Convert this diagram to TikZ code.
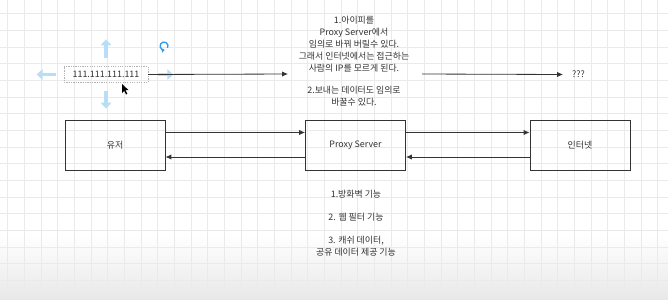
\documentclass[tikz,border=0pt]{standalone}
\usepackage{fontspec}
\setmainfont{Noto Sans CJK KR}
\usetikzlibrary{arrows.meta, calc}

\definecolor{ink}{HTML}{333333}
\definecolor{gridc}{HTML}{EAEAEA}
\definecolor{handlec}{HTML}{B8DEF7}
\definecolor{rotc}{HTML}{2E9BEA}

\begin{document}
\begin{tikzpicture}[x=0.03cm, y=-0.03cm, >={Latex[length=5pt,width=4.5pt]},
  font=\fontsize{7.6}{10.2}\selectfont, text=ink,
  block/.style={draw=ink, line width=0.8pt, minimum width=3cm, minimum height=1.5cm, inner sep=0pt},
  ipbox/.style={draw=gray!60, dashed, dash pattern=on 1pt off 1pt, minimum width=2.52cm, minimum height=0.47cm, inner sep=0pt},
  link/.style={draw=ink, line width=0.7pt, ->},
  note/.style={align=center, inner sep=0pt},
  handle/.style={draw=handlec, line width=3.2pt, -{Triangle[length=5pt,width=9pt]}}]

% ---------- canvas ----------
\useasboundingbox (0,0) rectangle (668,299);
\fill[white] (0,0) rectangle (668,299);
\shade[top color=white, bottom color=black!9] (0,235) rectangle (668,299);
\foreach \i in {0,...,39} \draw[gridc, line width=0.4pt] ({7.4+16.67*\i},0) -- ++(0,299);
\foreach \i in {0,...,17} \draw[gridc, line width=0.4pt] (0,{13.6+16.67*\i}) -- ++(668,0);

% ---------- blocks ----------
\node[block] (user)  at (115,145) {유저};
\node[block] (proxy) at (355.5,145) {Proxy Server};
\node[block] (net)   at (580,145) {인터넷};

% ---------- request / response ----------
\draw[link] ($(user.east)+(0,-12.5)$)  -- ($(proxy.west)+(0,-12.5)$);
\draw[link] ($(proxy.east)+(0,-12.5)$) -- ($(net.west)+(0,-12.5)$);
\draw[link] ($(net.west)+(0,12)$)      -- ($(proxy.east)+(0,12)$);
\draw[link] ($(proxy.west)+(0,12)$)    -- ($(user.east)+(0,12)$);

% ---------- ip address (selected) ----------
\node[ipbox] (ip) at (106,74.5) {111.111.111.111};
\draw[handle] (ip.north) ++(0,-8) -- ++(0,-19);
\draw[handle] (ip.south) ++(0,8)  -- ++(0,18);
\draw[handle] (ip.west)  ++(-8,0) -- ++(-19,0);
\draw[handle] (ip.east)  ++(10,0) -- ++(15,0);
\draw[rotc, line width=1.1pt, -{Triangle[length=2.5pt,width=3.5pt]}] (167.5,48) arc[start angle=30, end angle=-280, radius=4];
\fill[black] (122,84) -- (122,93) -- (124.2,90.8) -- (126,94.5) -- (127.3,93.8) -- (125.6,90.2) -- (128.6,90.2) -- cycle;

\coordinate (hidden) at (288,74);
\draw[link] (ip.east) -- (hidden);

% ---------- what the proxy does ----------
\node[note, anchor=north] (why) at (354,16) {1.아이피를\\Proxy Server에서\\임의로 바꿔 버릴수 있다.\\그래서 인터넷에서는 접근하는\\사람의 IP를 모르게 된다.\\[8.5pt]2.보내는 데이터도 임의로\\바꿀수 있다.};

\node[anchor=west, inner sep=0pt] (unknown) at (572,74.5) {???};
\coordinate (out) at (422,74);
\draw[link] (out) -- ($(unknown.west)+(-9,0)$);

\node[note, anchor=north] (roles) at (356,190) {1.방화벽 기능\\[9.4pt]2. 웹 필터 기능\\[9.4pt]3. 캐쉬 데이터,\\공유 데이터 제공 기능};

\end{tikzpicture}
\end{document}
